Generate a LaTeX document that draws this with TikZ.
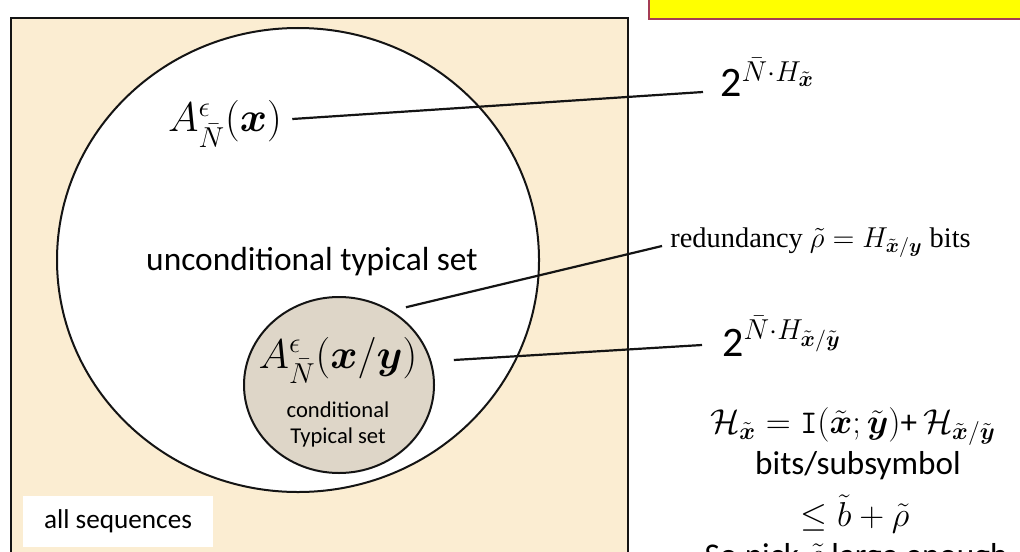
\documentclass[tikz,border=0pt]{standalone}
\usepackage{amsmath}
\usepackage{amssymb}
\usepackage{fontspec}
\setmainfont{Carlito}
\newfontfamily\serifface{Liberation Serif}
\usetikzlibrary{positioning, shapes.geometric}
\definecolor{parchment}{RGB}{251,237,210}
\definecolor{condgray}{RGB}{222,214,200}
\definecolor{noteyellow}{RGB}{255,255,0}
\definecolor{noteborder}{RGB}{165,60,85}
\definecolor{inkcolor}{RGB}{20,20,20}
\tikzset{
  setshape/.style = {draw=inkcolor, line width=1pt, ellipse, inner sep=0pt},
  lead/.style     = {draw=inkcolor, line width=1.1pt},
  powlbl/.style   = {font=\fontsize{21}{24}\selectfont, inner sep=0pt, anchor=base west},
  sidetxt/.style  = {font=\fontsize{16.6}{19}\selectfont, inner sep=0pt},
}
\begin{document}
\begin{tikzpicture}[x=0.5pt, y=-0.5pt]
  \useasboundingbox (0,0) rectangle (1020,551);
  \clip (0,0) rectangle (1020,551);

  % frames
  \node[draw=inkcolor, line width=1pt, fill=parchment, anchor=north west,
        minimum width=308.5pt, minimum height=280pt, inner sep=0pt] (all) at (10,17) {};
  \node[draw=noteborder, line width=1pt, fill=noteyellow, anchor=south west,
        minimum width=200pt, minimum height=30pt, inner sep=0pt] (note) at (648,20) {};

  % typical sets
  \node[setshape, fill=white, minimum width=241pt, minimum height=232pt] (uncond) at (298,260) {};
  \node[setshape, fill=condgray, minimum width=95pt, minimum height=88pt] (cond) at (339,385) {};

  \node[font=\fontsize{22.5}{26}\selectfont, inner sep=0pt] (Ax) at (225,124) {$A^{\epsilon}_{\bar N}(\boldsymbol{x})$};
  \node[font=\fontsize{16.7}{19}\selectfont] (uncondlbl) at (312,262) {unconditional typical set};
  \node[font=\fontsize{20.5}{24}\selectfont, inner sep=0pt] (Axy) at (338,360) {$A^{\epsilon}_{\bar N}(\boldsymbol{x}/\boldsymbol{y})$};
  \node[font=\fontsize{11.3}{13}\selectfont, align=center] (condlbl) at (338,424) {conditional\\Typical set};
  \node[fill=white, minimum width=95pt, minimum height=25.5pt,
        font=\fontsize{13.6}{16}\selectfont] (allseq) at (118,521) {all sequences};

  % right-hand labels
  \node[powlbl] (pow1) at (720,97) {2$^{\bar N\cdot H_{\tilde{\boldsymbol x}}}$};
  \node[anchor=west, inner sep=1pt, font=\serifface\fontsize{14.2}{17}\selectfont] (redund) at (668,243)
        {redundancy $\tilde\rho = H_{\tilde{\boldsymbol x}/\boldsymbol y}$ bits};
  \node[powlbl] (pow2) at (722,356) {2$^{\bar N\cdot H_{\tilde{\boldsymbol x}/\tilde{\boldsymbol y}}}$};
  \node[sidetxt, font=\fontsize{16.6}{20}\selectfont] (entropy) at (853,427)
        {$\mathcal{H}_{\tilde{\boldsymbol x}} = \mathtt{I}(\tilde{\boldsymbol x};\tilde{\boldsymbol y})$+$\,\mathcal{H}_{\tilde{\boldsymbol x}/\tilde{\boldsymbol y}}$};
  \node[sidetxt] (bits) at (858,466) {bits/subsymbol};
  \node[sidetxt, font=\fontsize{17.5}{20}\selectfont] (bound) at (855,514) {$\leq \tilde b + \tilde\rho$};
  \node[sidetxt] (pick) at (856,558) {So pick $\tilde\rho$ large enough};

  % leaders
  \draw[lead] ([shift={(5pt,2.5pt)}]Ax.east) -- ([shift={(-8.5pt,2.5pt)}]pow1.base west);
  \draw[lead] ([shift={(4pt,3.75pt)}]cond.50) -- ([shift={(-3pt,-1.5pt)}]redund.west);
  \draw[lead] ([shift={(18pt,0pt)}]Axy.east) -- ([shift={(-10pt,5.5pt)}]pow2.base west);
\end{tikzpicture}
\end{document}
